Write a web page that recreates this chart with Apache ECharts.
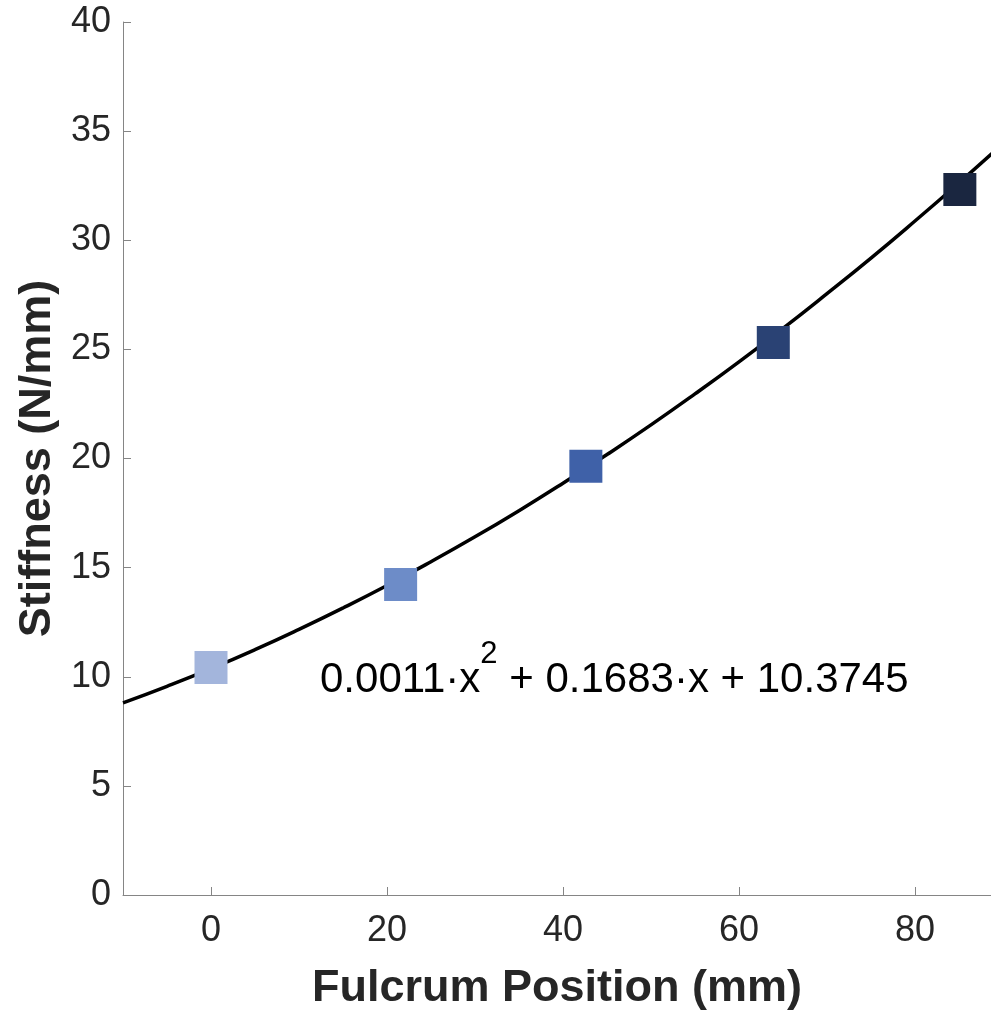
<!DOCTYPE html>
<html>
<head>
<meta charset="utf-8">
<script src="https://cdn.jsdelivr.net/npm/echarts@6/dist/echarts.min.js"></script>
<style>html,body{margin:0;padding:0;background:#fff;}#c{width:991px;height:1017px;}</style>
</head>
<body>
<div id="c"></div>
<script>
// Measured points
const pointX = [0, 21.55, 42.6, 63.9, 85.1];
const pointY = [10.42, 14.23, 19.64, 25.32, 32.33];
const pointColors = ['#a3b5dc', '#6d8cc8', '#3f61a8', '#2a4274', '#1a2640'];
// Fitted curve
const curveX = [-10, -5, 0, 5, 10, 15, 20, 25, 30, 35, 40, 45, 50, 55, 60, 65, 70, 75, 80, 85, 90];
const curveY = [8.80, 9.56, 10.37, 11.24, 12.17, 13.15, 14.18, 15.27, 16.41, 17.61, 18.87, 20.18, 21.54, 22.96, 24.43, 25.96, 27.55, 29.18, 30.88, 32.63, 34.43];
const xTicks = [0, 20, 40, 60, 80];
const yTicks = [0, 5, 10, 15, 20, 25, 30, 35, 40];
const xTitle = 'Fulcrum Position (mm)';
const yTitle = 'Stiffness (N/mm)';

const FONT = '"Liberation Sans", Arial, Helvetica, sans-serif';
const chart = echarts.init(document.getElementById('c'), null, {renderer: 'canvas'});
chart.setOption({
  animation: false,
  backgroundColor: '#ffffff',
  grid: {left: 123, top: 22, right: 0, bottom: 122, containLabel: false},
  xAxis: {
    type: 'value', min: -10, max: 88.64,
    splitLine: {show: false},
    axisLine: {show: true, onZero: false, lineStyle: {color: '#858585', width: 1}},
    axisTick: {show: true, inside: true, length: 8, customValues: xTicks, lineStyle: {color: '#858585'}},
    axisLabel: {customValues: xTicks, color: '#262626', fontSize: 36, fontFamily: FONT, margin: 18},
    name: xTitle, nameLocation: 'middle', nameGap: 71,
    nameTextStyle: {color: '#262626', fontSize: 45, fontWeight: 'bold', fontFamily: FONT}
  },
  yAxis: {
    type: 'value', min: 0, max: 40, interval: 5,
    splitLine: {show: false},
    axisLine: {show: true, onZero: false, lineStyle: {color: '#858585', width: 1}},
    axisTick: {show: true, inside: true, length: 8, lineStyle: {color: '#858585'}},
    axisLabel: {color: '#262626', fontSize: 36, fontFamily: FONT, margin: 12},
    name: yTitle, nameLocation: 'middle', nameGap: 59,
    nameTextStyle: {color: '#262626', fontSize: 45, fontWeight: 'bold', fontFamily: FONT}
  },
  series: [
    {
      type: 'line', data: curveX.map((x, i) => [x, curveY[i]]),
      smooth: true, showSymbol: false, clip: true,
      lineStyle: {color: '#000000', width: 3.5}, z: 2
    },
    {
      type: 'scatter', symbol: 'rect', symbolSize: 33, z: 3,
      itemStyle: {opacity: 1},
      data: pointX.map((x, i) => ({value: [x, pointY[i]], itemStyle: {color: pointColors[i], opacity: 1}}))
    }
  ],
  graphic: [{
    type: 'text', left: 320, top: 639, z: 10,
    style: {
      text: '{a|0.0011·x}{s|2}{a| + 0.1683·x + 10.3745}',
      rich: {
        a: {fontSize: 42, fontFamily: FONT, fill: '#000', lineHeight: 62, verticalAlign: 'bottom'},
        s: {fontSize: 31, fontFamily: FONT, fill: '#000', lineHeight: 7, verticalAlign: 'top'}
      }
    }
  }]
});
</script>
</body>
</html>
